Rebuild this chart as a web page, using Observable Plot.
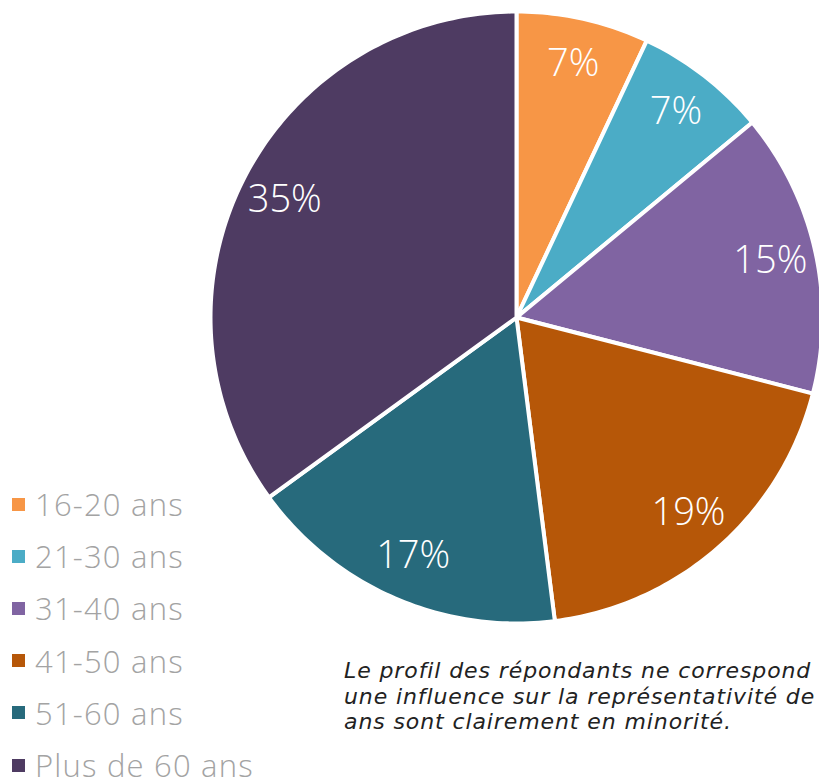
<!DOCTYPE html>
<html>
<head>
<meta charset="utf-8">
<script src="https://cdn.jsdelivr.net/npm/d3@7"></script>
<script src="https://cdn.jsdelivr.net/npm/@observablehq/plot@0.6"></script>
<style>
  html, body { margin: 0; padding: 0; background: #fff; overflow: hidden; }
  #wrap { position: relative; width: 819px; height: 780px; overflow: hidden; }
  #chart { position: absolute; left: 0; top: 0; }
  #legend { position: absolute; left: 12px; top: 478px; font-family: "Open Sans", sans-serif; font-weight: 300; color: #a3a3a3; font-size: 31px; letter-spacing: 1.2px; }
  .row { display: flex; align-items: center; height: 52.2px; line-height: 40px; white-space: nowrap; }
  .sw { width: 13px; height: 13px; margin-right: 10px; flex: none; }
  #caption { position: absolute; left: 344px; top: 658px; font-family: "DejaVu Sans", sans-serif; font-style: italic; font-size: 22px; letter-spacing: 0.9px; line-height: 25.5px; color: #222; white-space: nowrap; }
</style>
</head>
<body>
<div id="wrap">
  <div id="chart"></div>
  <div id="legend"></div>
  <div id="caption"></div>
</div>
<script>
const categories = ["16-20 ans", "21-30 ans", "31-40 ans", "41-50 ans", "51-60 ans", "Plus de 60 ans"];
const values = [7, 7, 15, 19, 17, 35];
const colors = ["#F79646", "#4BACC6", "#8064A2", "#B65708", "#276A7C", "#4E3B62"];
const captionLines = [
  "Le profil des répondants ne correspond",
  "une influence sur la représentativité de",
  "ans sont clairement en minorité."
];

const data = categories.map((c, i) => ({cat: c, value: values[i]}));
const arcs = d3.pie().sort(null).value(d => d.value).startAngle(0).endAngle(2 * Math.PI)(data);

// polygon points for each slice in unit data space (radius 1)
const pts = [];
for (const a of arcs) {
  pts.push({cat: a.data.cat, x: 0, y: 0});
  const n = Math.max(2, Math.ceil((a.endAngle - a.startAngle) / (Math.PI / 180)));
  for (let k = 0; k <= n; k++) {
    const t = a.startAngle + (a.endAngle - a.startAngle) * k / n;
    pts.push({cat: a.data.cat, x: Math.sin(t), y: Math.cos(t)});
  }
  pts.push({cat: a.data.cat, x: 0, y: 0});
}
const labels = arcs.map(a => {
  const m = (a.startAngle + a.endAngle) / 2;
  return {cat: a.data.cat, x: 0.85 * Math.sin(m), y: 0.85 * Math.cos(m), text: a.data.value + "%"};
});

const W = 819, H = 780, cx = 516, cy = 317, R = 306;
const chart = Plot.plot({
  width: W, height: H, margin: 0,
  x: {domain: [-cx / R, (W - cx) / R], axis: null},
  y: {domain: [-(H - cy) / R, cy / R], axis: null},
  color: {domain: categories, range: colors},
  marks: [
    Plot.line(pts, {x: "x", y: "y", z: "cat", fill: "cat", stroke: "white", strokeWidth: 4, strokeLinejoin: "round"}),
    Plot.text(labels, {x: "x", y: "y", text: "text", fill: "white", fontSize: 38, fontWeight: 300, fontFamily: "Open Sans, sans-serif"})
  ]
});
document.getElementById("chart").appendChild(chart);

const legend = document.getElementById("legend");
categories.forEach((c, i) => {
  const row = document.createElement("div");
  row.className = "row";
  const sw = document.createElement("span");
  sw.className = "sw";
  sw.style.background = colors[i];
  const t = document.createElement("span");
  t.textContent = c;
  row.appendChild(sw); row.appendChild(t);
  legend.appendChild(row);
});
document.getElementById("caption").innerHTML = captionLines.map(l => `<div>${l}</div>`).join("");
</script>
</body>
</html>
